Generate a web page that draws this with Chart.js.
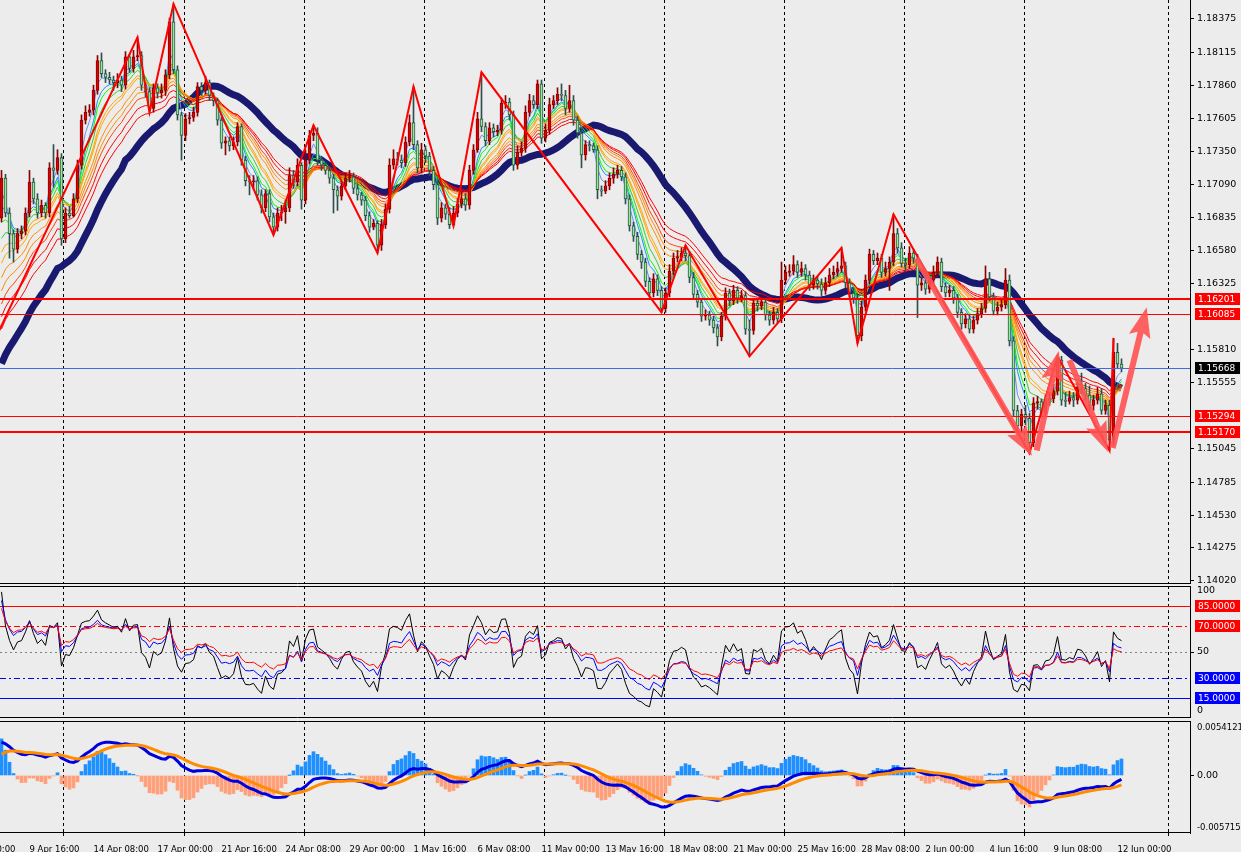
<!DOCTYPE html>
<html lang="en">
<head>
<meta charset="UTF-8">
<title>EURUSD H4</title>
<script src="https://cdn.jsdelivr.net/npm/chart.js@4.4.1/dist/chart.umd.min.js"></script>
<style>
    body { margin: 0; background: #ececec; width: 1241px; height: 852px; overflow: hidden; position: relative; }
    canvas { position: absolute; left: 0; }
    #mainChart { top: 0; }
    #oscChart { top: 586px; }
    #macdChart { top: 721px; }
</style>
</head>
<body>
<canvas id="mainChart" width="1241" height="584"></canvas>
<canvas id="oscChart" width="1241" height="132"></canvas>
<canvas id="macdChart" width="1241" height="131"></canvas>
<script>
// ---- price data (H4 bars, open = previous close) ----
var firstOpen = 1.1683;
var closes = [
    1.1714, 1.1687, 1.1671, 1.1659, 1.1671, 1.1673, 1.1687, 1.1711, 1.1698, 1.1687,
    1.1693, 1.1687, 1.1722, 1.1720, 1.1730, 1.1667, 1.1687, 1.1685, 1.1698, 1.1724,
    1.1759, 1.1765, 1.1767, 1.1782, 1.1805, 1.1795, 1.1792, 1.1790, 1.1788, 1.1790,
    1.1786, 1.1808, 1.1799, 1.1808, 1.1809, 1.1786, 1.1781, 1.1768, 1.1784, 1.1780,
    1.1782, 1.1794, 1.1835, 1.1798, 1.1763, 1.1747, 1.1760, 1.1761, 1.1765, 1.1785,
    1.1782, 1.1788, 1.1778, 1.1774, 1.1759, 1.1741, 1.1743, 1.1739, 1.1742, 1.1754,
    1.1728, 1.1712, 1.1711, 1.1712, 1.1701, 1.1691, 1.1702, 1.1684, 1.1676, 1.1687,
    1.1688, 1.1691, 1.1716, 1.1711, 1.1724, 1.1697, 1.1728, 1.1747, 1.1749, 1.1728,
    1.1724, 1.1720, 1.1714, 1.1705, 1.1700, 1.1708, 1.1714, 1.1715, 1.1706, 1.1701,
    1.1697, 1.1685, 1.1676, 1.1679, 1.1662, 1.1678, 1.1690, 1.1724, 1.1729, 1.1728,
    1.1726, 1.1742, 1.1757, 1.1740, 1.1722, 1.1736, 1.1731, 1.1720, 1.1709, 1.1683,
    1.1691, 1.1686, 1.1678, 1.1687, 1.1694, 1.1698, 1.1693, 1.1720, 1.1736, 1.1760,
    1.1754, 1.1743, 1.1753, 1.1750, 1.1751, 1.1772, 1.1773, 1.1763, 1.1724, 1.1734,
    1.1737, 1.1765, 1.1774, 1.1771, 1.1787, 1.1745, 1.1751, 1.1771, 1.1774, 1.1779,
    1.1778, 1.1768, 1.1774, 1.1759, 1.1749, 1.1732, 1.1740, 1.1739, 1.1736, 1.1705,
    1.1704, 1.1708, 1.1714, 1.1717, 1.1720, 1.1715, 1.1698, 1.1677, 1.1669, 1.1655,
    1.1649, 1.1634, 1.1625, 1.1636, 1.1627, 1.1613, 1.1625, 1.1642, 1.1652, 1.1653,
    1.1656, 1.1654, 1.1637, 1.1624, 1.1618, 1.1607, 1.1608, 1.1604, 1.1598, 1.1591,
    1.1607, 1.1625, 1.1619, 1.1627, 1.1621, 1.1623, 1.1597, 1.1596, 1.1617, 1.1615,
    1.1618, 1.1608, 1.1604, 1.1610, 1.1605, 1.1635, 1.1641, 1.1642, 1.1647, 1.1641,
    1.1644, 1.1639, 1.1631, 1.1635, 1.1632, 1.1627, 1.1633, 1.1639, 1.1641, 1.1644,
    1.1646, 1.1633, 1.1625, 1.1621, 1.1592, 1.1614, 1.1635, 1.1655, 1.1650, 1.1652,
    1.1641, 1.1644, 1.1649, 1.1671, 1.1660, 1.1648, 1.1647, 1.1656, 1.1652, 1.1631,
    1.1633, 1.1628, 1.1635, 1.1641, 1.1649, 1.1630, 1.1625, 1.1627, 1.1621, 1.1610,
    1.1601, 1.1605, 1.1597, 1.1604, 1.1609, 1.1613, 1.1636, 1.1622, 1.1611, 1.1614,
    1.1616, 1.1635, 1.1588, 1.1534, 1.1522, 1.1531, 1.1528, 1.1509, 1.1540, 1.1541,
    1.1532, 1.1542, 1.1543, 1.1549, 1.1573, 1.1542, 1.1541, 1.1544, 1.1542, 1.1552,
    1.1551, 1.1546, 1.1538, 1.1542, 1.1547, 1.1534, 1.1538, 1.1511, 1.1579, 1.1570,
    1.15668
];
var highs = [
    1.1720, 1.1717, 1.1691, 1.1674, 1.1675, 1.1677, 1.1691, 1.1720, 1.1714, 1.1702,
    1.1697, 1.1695, 1.1726, 1.1740, 1.1736, 1.1733, 1.1691, 1.1692, 1.1702, 1.1728,
    1.1763, 1.1770, 1.1771, 1.1786, 1.1809, 1.1811, 1.1798, 1.1796, 1.1793, 1.1795,
    1.1793, 1.1812, 1.1810, 1.1813, 1.1823, 1.1812, 1.1788, 1.1784, 1.1787, 1.1787,
    1.1787, 1.1798, 1.1838, 1.1849, 1.1801, 1.1765, 1.1764, 1.1765, 1.1769, 1.1788,
    1.1788, 1.1793, 1.1790, 1.1780, 1.1776, 1.1761, 1.1746, 1.1746, 1.1746, 1.1757,
    1.1756, 1.1731, 1.1716, 1.1716, 1.1715, 1.1705, 1.1705, 1.1705, 1.1687, 1.1691,
    1.1693, 1.1697, 1.1722, 1.1720, 1.1729, 1.1726, 1.1736, 1.1751, 1.1755, 1.1753,
    1.1731, 1.1726, 1.1723, 1.1717, 1.1708, 1.1712, 1.1718, 1.1720, 1.1718, 1.1709,
    1.1703, 1.1700, 1.1688, 1.1682, 1.1681, 1.1682, 1.1694, 1.1729, 1.1736, 1.1734,
    1.1732, 1.1746, 1.1763, 1.1785, 1.1743, 1.1741, 1.1739, 1.1734, 1.1723, 1.1712,
    1.1695, 1.1694, 1.1691, 1.1692, 1.1698, 1.1703, 1.1702, 1.1724, 1.1740, 1.1765,
    1.1796, 1.1757, 1.1757, 1.1756, 1.1755, 1.1776, 1.1778, 1.1776, 1.1766, 1.1739,
    1.1742, 1.1770, 1.1779, 1.1778, 1.1790, 1.1790, 1.1756, 1.1776, 1.1778, 1.1784,
    1.1787, 1.1782, 1.1786, 1.1778, 1.1762, 1.1753, 1.1743, 1.1743, 1.1741, 1.1739,
    1.1708, 1.1712, 1.1718, 1.1722, 1.1724, 1.1723, 1.1718, 1.1701, 1.1680, 1.1672,
    1.1658, 1.1652, 1.1637, 1.1640, 1.1639, 1.1630, 1.1629, 1.1647, 1.1656, 1.1658,
    1.1660, 1.1662, 1.1657, 1.1641, 1.1627, 1.1621, 1.1612, 1.1611, 1.1607, 1.1601,
    1.1610, 1.1629, 1.1628, 1.1631, 1.1630, 1.1627, 1.1626, 1.1604, 1.1621, 1.1620,
    1.1622, 1.1621, 1.1611, 1.1614, 1.1613, 1.1649, 1.1646, 1.1647, 1.1654, 1.1650,
    1.1649, 1.1647, 1.1642, 1.1639, 1.1638, 1.1636, 1.1637, 1.1644, 1.1646, 1.1649,
    1.1660, 1.1649, 1.1636, 1.1629, 1.1624, 1.1619, 1.1639, 1.1659, 1.1658, 1.1656,
    1.1655, 1.1649, 1.1653, 1.1686, 1.1675, 1.1664, 1.1652, 1.1661, 1.1659, 1.1655,
    1.1637, 1.1636, 1.1639, 1.1646, 1.1653, 1.1652, 1.1633, 1.1631, 1.1630, 1.1624,
    1.1613, 1.1609, 1.1608, 1.1607, 1.1613, 1.1617, 1.1646, 1.1641, 1.1625, 1.1618,
    1.1620, 1.1644, 1.1639, 1.1591, 1.1538, 1.1535, 1.1538, 1.1532, 1.1544, 1.1545,
    1.1543, 1.1546, 1.1548, 1.1554, 1.1576, 1.1576, 1.1548, 1.1549, 1.1548, 1.1556,
    1.1563, 1.1555, 1.1553, 1.1546, 1.1552, 1.1551, 1.1542, 1.1542, 1.1590, 1.1586,
    1.1574
];
var lows = [
    1.1680, 1.1684, 1.1652, 1.1649, 1.1656, 1.1667, 1.1670, 1.1684, 1.1694, 1.1683,
    1.1684, 1.1683, 1.1684, 1.1707, 1.1717, 1.1662, 1.1664, 1.1683, 1.1684, 1.1695,
    1.1721, 1.1756, 1.1762, 1.1763, 1.1779, 1.1792, 1.1788, 1.1787, 1.1782, 1.1784,
    1.1781, 1.1783, 1.1796, 1.1796, 1.1805, 1.1782, 1.1777, 1.1765, 1.1765, 1.1776,
    1.1776, 1.1778, 1.1791, 1.1795, 1.1759, 1.1728, 1.1743, 1.1756, 1.1758, 1.1762,
    1.1778, 1.1779, 1.1774, 1.1770, 1.1755, 1.1737, 1.1732, 1.1735, 1.1736, 1.1739,
    1.1724, 1.1708, 1.1701, 1.1706, 1.1697, 1.1687, 1.1688, 1.1680, 1.1670, 1.1673,
    1.1681, 1.1679, 1.1688, 1.1706, 1.1708, 1.1690, 1.1694, 1.1725, 1.1743, 1.1724,
    1.1720, 1.1717, 1.1710, 1.1687, 1.1689, 1.1697, 1.1705, 1.1711, 1.1702, 1.1697,
    1.1693, 1.1681, 1.1672, 1.1674, 1.1656, 1.1658, 1.1675, 1.1687, 1.1721, 1.1724,
    1.1722, 1.1723, 1.1739, 1.1736, 1.1718, 1.1718, 1.1726, 1.1716, 1.1705, 1.1678,
    1.1680, 1.1682, 1.1675, 1.1677, 1.1684, 1.1691, 1.1689, 1.1690, 1.1717, 1.1734,
    1.1750, 1.1739, 1.1740, 1.1746, 1.1747, 1.1748, 1.1768, 1.1759, 1.1720, 1.1721,
    1.1731, 1.1734, 1.1762, 1.1768, 1.1768, 1.1741, 1.1742, 1.1748, 1.1768, 1.1771,
    1.1774, 1.1763, 1.1765, 1.1755, 1.1745, 1.1722, 1.1728, 1.1735, 1.1734, 1.1698,
    1.1700, 1.1702, 1.1705, 1.1710, 1.1714, 1.1712, 1.1694, 1.1673, 1.1665, 1.1651,
    1.1644, 1.1630, 1.1622, 1.1622, 1.1623, 1.1610, 1.1610, 1.1622, 1.1639, 1.1649,
    1.1650, 1.1650, 1.1633, 1.1620, 1.1614, 1.1603, 1.1604, 1.1600, 1.1594, 1.1584,
    1.1588, 1.1604, 1.1615, 1.1616, 1.1617, 1.1618, 1.1593, 1.1576, 1.1593, 1.1611,
    1.1612, 1.1604, 1.1600, 1.1601, 1.1602, 1.1602, 1.1632, 1.1638, 1.1639, 1.1637,
    1.1638, 1.1635, 1.1627, 1.1628, 1.1628, 1.1623, 1.1624, 1.1630, 1.1636, 1.1638,
    1.1641, 1.1629, 1.1622, 1.1617, 1.1586, 1.1588, 1.1611, 1.1632, 1.1647, 1.1647,
    1.1637, 1.1638, 1.1627, 1.1646, 1.1656, 1.1645, 1.1642, 1.1644, 1.1648, 1.1606,
    1.1627, 1.1624, 1.1625, 1.1632, 1.1638, 1.1626, 1.1622, 1.1622, 1.1617, 1.1606,
    1.1597, 1.1598, 1.1594, 1.1594, 1.1601, 1.1606, 1.1610, 1.1619, 1.1608, 1.1608,
    1.1611, 1.1613, 1.1584, 1.1530, 1.1518, 1.1517, 1.1523, 1.1501, 1.1506, 1.1535,
    1.1529, 1.1529, 1.1538, 1.1540, 1.1546, 1.1538, 1.1537, 1.1539, 1.1537, 1.1539,
    1.1547, 1.1542, 1.1534, 1.1534, 1.1539, 1.1531, 1.1531, 1.1503, 1.1507, 1.1567,
    1.1564
];

// zigzag vertices (bar index, price)
var zzBars = [-3, 34, 37, 43, 68, 78, 94, 103, 113, 120, 165, 171, 187, 210, 214, 223, 257, 264, 277, 278];
var zzPrices = [1.1580, 1.1823, 1.1765, 1.1849, 1.1670, 1.1755, 1.1656, 1.1785, 1.1677, 1.1796,
    1.1610, 1.1662, 1.1576, 1.1660, 1.1586, 1.1686, 1.1501, 1.1576, 1.1503, 1.1590];

// hand drawn arrows: from bar, from price, to bar, to price
var arrows = [
    [228.7, 1.1652, 257.6, 1.1499],
    [258.8, 1.1503, 264.3, 1.1580],
    [267.0, 1.1573, 276.6, 1.1502],
    [277.8, 1.1505, 286.3, 1.1614]
];

// horizontal levels
var levels = [1.16201, 1.16085, 1.15668, 1.15294, 1.15170];
var levelColors = ['#ff0000', '#ff0000', '#4169e1', '#ff0000', '#ff0000'];
var levelBoxColors = ['#ff0000', '#ff0000', '#000000', '#ff0000', '#ff0000'];
var levelWidths = [2, 1, 1, 1, 2];

// moving average ribbon (EMA): periods and the values they had at the first bar
var ribbonPeriods = [3, 5, 6, 8, 10, 11, 14, 16, 18, 21, 24];
var ribbonStart = [1.1693, 1.1680, 1.1666, 1.1654, 1.1644, 1.1635, 1.1625, 1.1615, 1.1605, 1.1596, 1.1587];
var ribbonColors = ['#6495ed', '#1e90ff', '#00ff00', '#32cd32', '#ffa500', '#ffa500', '#ff8c00', '#ff8c00', '#ff4500', '#ff0000', '#ff0000'];
// thick trend line (SMA), with its value at the first bar for the warm-up bars
var trendPeriod = 32;
var trendStart = 1.1561;

// oscillator (three RSI) and MACD settings
var rsiPeriods = [7, 14, 21];
var rsiStart = [93, 86, 80];
var rsiSeedRange = 0.0009;
var rsiColors = ['#000000', '#0000ff', '#ff0000'];
var oscLevels = [85, 70, 50, 30, 15];
var macdPeriods = [12, 26, 9];
var macdStart = [1.1670, 1.1638, 0.0018];
var histGain = 3;

// axis labels
var priceTicks = [1.18375, 1.18115, 1.17860, 1.17605, 1.17350, 1.17090, 1.16835, 1.16580, 1.16325,
    1.15810, 1.15555, 1.15045, 1.14785, 1.14530, 1.14275, 1.14020];
var timeBars = [-9, 7, 23, 39, 55, 71, 87, 103, 119, 135, 151, 167, 183, 199, 215, 231, 247, 263, 279];
var timeLabels = ['7 Apr 00:00', '9 Apr 16:00', '14 Apr 08:00', '17 Apr 00:00', '21 Apr 16:00', '24 Apr 08:00',
    '29 Apr 00:00', '1 May 16:00', '6 May 08:00', '11 May 00:00', '13 May 16:00', '18 May 08:00',
    '21 May 00:00', '25 May 16:00', '28 May 08:00', '2 Jun 00:00', '4 Jun 16:00', '9 Jun 08:00', '12 Jun 00:00'];
var gridBars = [15.25, 45.5, 75.5, 105.5, 135.5, 165.5, 195.5, 225.5, 255.5, 291.5];

var barMin = -0.375, barMax = 297.125;

Chart.defaults.font.family = "'DejaVu Sans', sans-serif";
Chart.defaults.font.size = 9.5;
Chart.defaults.color = '#000';
Chart.defaults.animation = false;

// ---- derived series ----
var opens = closes.map(function (c, i) { return i ? closes[i - 1] : firstOpen; });
var isUp = closes.map(function (c, i) { return c >= opens[i]; });

function ema(values, period, seed) {
    var k = 2 / (period + 1), prev = seed;
    return values.map(function (v) { prev = prev + k * (v - prev); return prev; });
}
function smaWithWarmup(values, period, seed) {
    var warm = ema(values, period, seed);
    return values.map(function (v, i) {
        if (i < period - 1) return warm[i];
        var s = 0;
        for (var j = i - period + 1; j <= i; j++) s += values[j];
        return s / period;
    });
}
function xy(arr) {
    return arr.map(function (v, i) { return { x: i, y: v }; });
}
function rsiSeries(period, startLevel) {
    var g = rsiSeedRange * startLevel / 100, l = rsiSeedRange - g, prev = firstOpen;
    return closes.map(function (c) {
        var d = c - prev;
        prev = c;
        g = (g * (period - 1) + Math.max(d, 0)) / period;
        l = (l * (period - 1) + Math.max(-d, 0)) / period;
        return 100 * g / (g + l);
    });
}

var bodies = closes.map(function (c, i) {
    var o = opens[i];
    if (Math.abs(c - o) < 0.00004) c = o + (isUp[i] ? 0.00004 : -0.00004);
    return { x: i, y: [o, c] };
});
var wicks = closes.map(function (c, i) { return { x: i, y: [lows[i], highs[i]] }; });

var emaFast = ema(closes, macdPeriods[0], macdStart[0]);
var emaSlow = ema(closes, macdPeriods[1], macdStart[1]);
var macdLine = emaFast.map(function (v, i) { return v - emaSlow[i]; });
var signalLine = ema(macdLine, macdPeriods[2], macdStart[2]);
var osma = macdLine.map(function (v, i) { return (v - signalLine[i]) * histGain; });

// ---- shared plugins ----
var vgrid = {
    id: 'vgrid',
    beforeDatasetsDraw: function (chart) {
        var ctx = chart.ctx, a = chart.chartArea, xs = chart.scales.x;
        ctx.save();
        ctx.strokeStyle = '#000';
        ctx.lineWidth = 1;
        ctx.setLineDash([3, 3]);
        gridBars.forEach(function (b) {
            var px = Math.round(xs.getPixelForValue(b)) + 0.5;
            ctx.beginPath();
            ctx.moveTo(px, a.top);
            ctx.lineTo(px, a.bottom);
            ctx.stroke();
        });
        ctx.restore();
    }
};

function hline(ctx, a, y, color, width, dash) {
    ctx.save();
    ctx.strokeStyle = color;
    ctx.lineWidth = width;
    ctx.setLineDash(dash || []);
    ctx.beginPath();
    ctx.moveTo(a.left, y);
    ctx.lineTo(a.right, y);
    ctx.stroke();
    ctx.restore();
}
function axisBox(ctx, a, y, text, bg) {
    ctx.save();
    ctx.fillStyle = bg;
    ctx.fillRect(a.right + 5, Math.round(y) - 6, 45, 12);
    ctx.fillStyle = '#fff';
    ctx.font = "9px 'DejaVu Sans'";
    ctx.textBaseline = 'middle';
    ctx.fillText(text, a.right + 8, Math.round(y) + 0.5);
    ctx.restore();
}
function axisText(ctx, a, y, text, size) {
    ctx.save();
    ctx.fillStyle = '#000';
    ctx.font = (size || 9.5) + "px 'DejaVu Sans'";
    ctx.textBaseline = 'middle';
    ctx.fillText(text, a.right + 7, y);
    ctx.restore();
}
function frameLines(ctx, a, top) {
    if (top) hline(ctx, a, a.top + 0.5, '#000', 1);
    hline(ctx, a, a.bottom - 0.5, '#000', 1);
}
function drawArrow(ctx, x0, y0, x1, y1) {
    var ang = Math.atan2(y1 - y0, x1 - x0), len = Math.hypot(x1 - x0, y1 - y0);
    var head = 26, half = 11, shaft = 3;
    ctx.save();
    ctx.translate(x0, y0);
    ctx.rotate(ang);
    ctx.beginPath();
    ctx.moveTo(0, -shaft);
    ctx.lineTo(len - head, -shaft);
    ctx.lineTo(len - head - 4, -half);
    ctx.lineTo(len, 0);
    ctx.lineTo(len - head - 4, half);
    ctx.lineTo(len - head, shaft);
    ctx.lineTo(0, shaft);
    ctx.closePath();
    ctx.fill();
    ctx.restore();
}

function noPadding(s) {
    s.paddingTop = 0;
    s.paddingBottom = 0;
    s.paddingLeft = 0;
    s.paddingRight = 0;
}
function hiddenX() {
    return { type: 'linear', min: barMin, max: barMax, offset: false, display: false, afterFit: noPadding };
}
function rightAxis(extra) {
    var base = {
        position: 'right',
        afterFit: function (s) { s.width = 51; noPadding(s); },
        grid: { drawOnChartArea: false, tickLength: 4, color: '#000' },
        border: { color: '#000' },
        ticks: { padding: 3 }
    };
    return Object.assign(base, extra);
}
var baseOptions = {
    responsive: false,
    devicePixelRatio: 1,
    events: [],
    layout: { padding: 0, autoPadding: false },
    plugins: { legend: { display: false }, tooltip: { enabled: false } }
};

// ---- main price chart ----
var mainOverlay = {
    id: 'mainOverlay',
    afterDatasetsDraw: function (chart) {
        var ctx = chart.ctx, a = chart.chartArea, xs = chart.scales.x, ys = chart.scales.y;
        levels.forEach(function (v, i) {
            var y = Math.round(ys.getPixelForValue(v)) + (levelWidths[i] === 1 ? 0.5 : 0);
            hline(ctx, a, y, levelColors[i], levelWidths[i]);
        });
        ctx.save();
        ctx.beginPath();
        ctx.rect(a.left, a.top, a.right - a.left, a.bottom - a.top);
        ctx.clip();
        ctx.fillStyle = 'rgba(255, 82, 82, 0.9)';
        arrows.forEach(function (r) {
            drawArrow(ctx, xs.getPixelForValue(r[0]), ys.getPixelForValue(r[1]),
                xs.getPixelForValue(r[2]), ys.getPixelForValue(r[3]));
        });
        ctx.restore();
    },
    afterDraw: function (chart) {
        var ctx = chart.ctx, a = chart.chartArea, ys = chart.scales.y;
        levels.forEach(function (v, i) {
            axisBox(ctx, a, ys.getPixelForValue(v), v.toFixed(5), levelBoxColors[i]);
        });
        frameLines(ctx, a, false);
    }
};

var mainSets = [];
mainSets.push({
    type: 'line', data: xy(smaWithWarmup(closes, trendPeriod, trendStart)), borderColor: '#191970',
    borderWidth: 7, pointRadius: 0, order: 40
});
ribbonPeriods.forEach(function (p, i) {
    mainSets.push({
        type: 'line', data: xy(ema(closes, p, ribbonStart[i])), borderColor: ribbonColors[i],
        borderWidth: 1, pointRadius: 0, order: 30 - i
    });
});
mainSets.push({
    type: 'bar', data: wicks, grouped: false, barThickness: 1, order: 5,
    backgroundColor: isUp.map(function (u) { return u ? '#8b0000' : '#2f4f4f'; })
});
mainSets.push({
    type: 'bar', data: bodies, grouped: false, barThickness: 3, order: 4, borderWidth: 1, borderSkipped: false,
    backgroundColor: isUp.map(function (u) { return u ? '#e00000' : '#90ee90'; }),
    borderColor: isUp.map(function (u) { return u ? '#8b0000' : '#2f4f4f'; })
});
mainSets.push({
    type: 'line', data: zzBars.map(function (b, i) { return { x: b, y: zzPrices[i] }; }),
    borderColor: '#ff0000', borderWidth: 2, pointRadius: 0, order: 1
});

new Chart(document.getElementById('mainChart'), {
    type: 'bar',
    data: { datasets: mainSets },
    options: Object.assign({}, baseOptions, {
        scales: {
            x: hiddenX(),
            y: rightAxis({
                min: 1.13996, max: 1.1852,
                afterBuildTicks: function (s) { s.ticks = priceTicks.map(function (v) { return { value: v }; }); },
                ticks: { padding: 3, callback: function (v) { return v.toFixed(5); } }
            })
        }
    }),
    plugins: [vgrid, mainOverlay]
});

// ---- oscillator ----
var oscStyles = [
    ['#ff0000', []], ['#ff0000', [6, 3, 2, 3]], ['#808080', [2, 3]], ['#0000ff', [6, 3, 2, 3]], ['#0000ff', []]
];
var oscOverlay = {
    id: 'oscOverlay',
    beforeDatasetsDraw: function (chart) {
        var ctx = chart.ctx, a = chart.chartArea, ys = chart.scales.y;
        oscLevels.forEach(function (v, i) {
            hline(ctx, a, Math.round(ys.getPixelForValue(v)) + 0.5, oscStyles[i][0], 1, oscStyles[i][1]);
        });
    },
    afterDraw: function (chart) {
        var ctx = chart.ctx, a = chart.chartArea, ys = chart.scales.y;
        oscLevels.forEach(function (v, i) {
            if (v !== 50) axisBox(ctx, a, ys.getPixelForValue(v), v.toFixed(4), i < 2 ? '#ff0000' : '#0000ff');
        });
        axisText(ctx, a, a.top + 5, '100');
        axisText(ctx, a, a.bottom - 7, '0');
        frameLines(ctx, a, true);
    }
};
new Chart(document.getElementById('oscChart'), {
    type: 'line',
    data: {
        datasets: rsiPeriods.map(function (p, i) {
            return {
                data: xy(rsiSeries(p, rsiStart[i])), borderColor: rsiColors[i], borderWidth: 1,
                pointRadius: 0, order: 3 - i
            };
        })
    },
    options: Object.assign({}, baseOptions, {
        scales: {
            x: hiddenX(),
            y: rightAxis({
                min: 0, max: 100,
                afterBuildTicks: function (s) { s.ticks = [{ value: 50 }]; },
                ticks: { padding: 3, callback: function (v) { return String(v); } }
            })
        }
    }),
    plugins: [vgrid, oscOverlay]
});

// ---- MACD ----
var macdOverlay = {
    id: 'macdOverlay',
    afterDraw: function (chart) {
        var ctx = chart.ctx, a = chart.chartArea, xs = chart.scales.x;
        axisText(ctx, a, a.top + 7, '0.0054121', 8.5);
        axisText(ctx, a, a.bottom - 5, '-0.005715', 8.5);
        frameLines(ctx, a, true);
        ctx.save();
        ctx.strokeStyle = '#000';
        gridBars.forEach(function (b) {
            var px = Math.round(xs.getPixelForValue(b)) + 0.5;
            ctx.beginPath();
            ctx.moveTo(px, a.bottom);
            ctx.lineTo(px, a.bottom + 3);
            ctx.stroke();
        });
        ctx.restore();
    }
};
new Chart(document.getElementById('macdChart'), {
    type: 'bar',
    data: {
        datasets: [{
            type: 'line', data: xy(macdLine), borderColor: '#0000dd', borderWidth: 3, pointRadius: 0, order: 2
        }, {
            type: 'line', data: xy(signalLine), borderColor: '#ff8c00', borderWidth: 3, pointRadius: 0, order: 1
        }, {
            type: 'bar', data: xy(osma), barThickness: 3, grouped: false, order: 3,
            backgroundColor: osma.map(function (v) { return v >= 0 ? '#1e90ff' : '#ffa07a'; })
        }]
    },
    options: Object.assign({}, baseOptions, {
        scales: {
            x: {
                type: 'linear', min: barMin, max: barMax, offset: false, position: 'bottom',
                afterBuildTicks: function (s) { s.ticks = timeBars.map(function (b) { return { value: b }; }); },
                afterFit: function (s) { s.height = 19; noPadding(s); },
                grid: { display: false },
                border: { display: false },
                ticks: {
                    autoSkip: false, maxRotation: 0, align: 'start', padding: 4,
                    font: { size: 8.5 },
                    callback: function (v, i) { return timeLabels[i]; }
                }
            },
            y: rightAxis({
                min: -0.005715, max: 0.0054121,
                afterBuildTicks: function (s) { s.ticks = [{ value: 0 }]; },
                ticks: { padding: 3, callback: function () { return '0.00'; } }
            })
        }
    }),
    plugins: [vgrid, macdOverlay]
});
</script>
</body>
</html>
